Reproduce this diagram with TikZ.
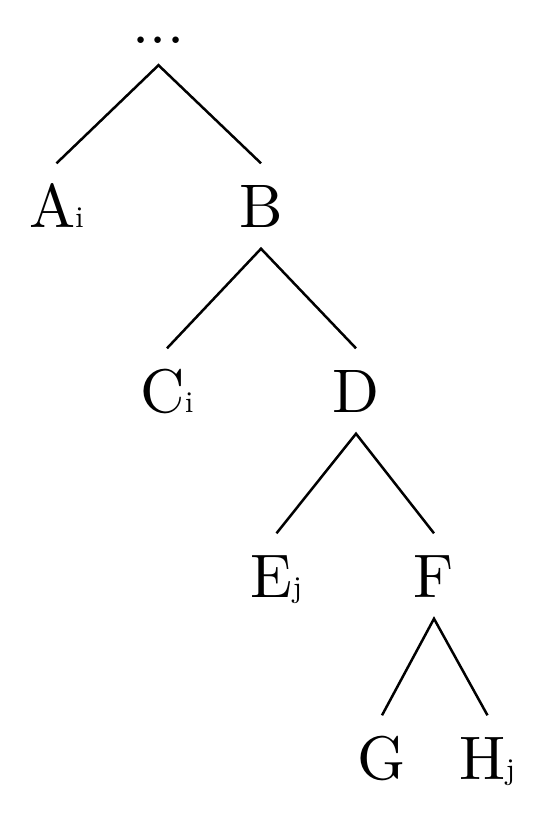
\documentclass[tikz,border=0pt]{standalone}
\usepackage{fontspec}
\setmainfont{lmroman10-regular}[Extension=.otf]
\newcommand{\subtxt}[1]{{\fontsize{30}{30}\selectfont #1}}
\begin{document}
\begin{tikzpicture}[x=1pt,y=-1pt,
  lab/.style={anchor=base,inner xsep=0pt,inner ysep=21.5pt,text height=42pt,text depth=0pt,
    font=\fontsize{61.5}{61.5}\selectfont},
  toplab/.style={anchor=base,inner xsep=0pt,inner ysep=21.5pt,text height=7pt,text depth=0pt,
    font=\fontsize{61.5}{61.5}\selectfont},
  edge/.style={line width=2.5pt,line cap=butt}]
\useasboundingbox (0,0) rectangle (552,814);
\node[toplab] (r) at (158.5,43.5) {...};
\node[lab] (A) at (56.5,227) {A\subtxt{i}};
\node[lab] (B) at (261,227) {B};
\node[lab] (C) at (167,412) {C\subtxt{i}};
\node[lab] (D) at (356,412) {D};
\node[lab] (E) at (276.5,597) {E\subtxt{j}};
\node[lab] (F) at (434,597) {F};
\node[lab] (G) at (382,779) {G};
\node[lab] (H) at (487.5,779) {H\subtxt{j}};
\draw[edge] (A.north) -- (r.south) -- (B.north);
\draw[edge] (C.north) -- (B.south) -- (D.north);
\draw[edge] (E.north) -- (D.south) -- (F.north);
\draw[edge] (G.north) -- (F.south) -- (H.north);
\end{tikzpicture}
\end{document}
